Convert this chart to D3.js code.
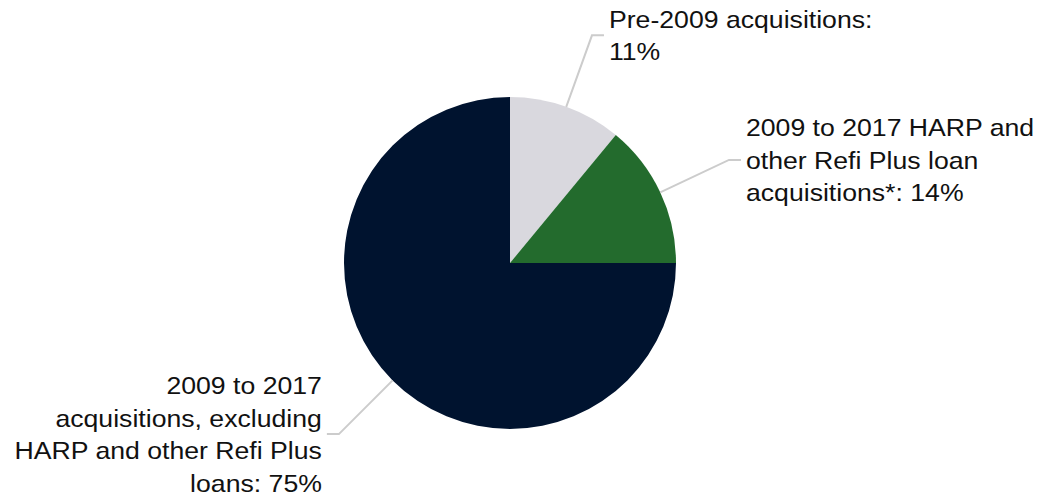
<!DOCTYPE html>
<html>
<head>
<meta charset="utf-8">
<script src="https://cdn.jsdelivr.net/npm/d3@7"></script>
<style>
  body { margin: 0; background: #fff; }
  svg text { font-family: "Liberation Sans", Arial, sans-serif; fill: #111; }
</style>
</head>
<body>
<div id="chart"></div>
<script>
// Slice categories and shares (percent)
const categories = ["Pre-2009", "HARP/Refi Plus", "2009-2017 other"];
const shares = [11, 14, 75];
// Label lines for each slice
const labelLines = [
  ["Pre-2009 acquisitions:", "11%"],
  ["2009 to 2017 HARP and", "other Refi Plus loan", "acquisitions*: 14%"],
  ["2009 to 2017", "acquisitions, excluding", "HARP and other Refi Plus", "loans: 75%"]
];
const colors = ["#d9d8de", "#236b2d", "#00132f"];

const width = 1041, height = 499;
const cx = 510, cy = 263, radius = 166;
const lineH = 32.5;
const stretch = 1.11; // labels in the original are a bit wide

const svg = d3.select("#chart")
  .append("svg")
  .attr("width", width)
  .attr("height", height);

const g = svg.append("g")
  .attr("transform", `translate(${cx},${cy})`);

const pie = d3.pie().sort(null).value(d => d)(shares);

const arc = d3.arc().innerRadius(0).outerRadius(radius);
const edgeArc = d3.arc().innerRadius(radius).outerRadius(radius);
const outerArc = d3.arc().innerRadius(242).outerRadius(242);

// slices
g.selectAll("path.slice")
  .data(pie)
  .enter()
  .append("path")
  .attr("class", "slice")
  .attr("d", arc)
  .attr("fill", (d, i) => colors[i]);

// leader lines: radial out, then a short horizontal tail
const midAngle = d => (d.startAngle + d.endAngle) / 2;
const side = d => (midAngle(d) < Math.PI ? 1 : -1);

g.selectAll("polyline")
  .data(pie)
  .enter()
  .append("polyline")
  .attr("fill", "none")
  .attr("stroke", "#cccccc")
  .attr("stroke-width", 2)
  .attr("points", d => {
    const a = edgeArc.centroid(d);
    const b = outerArc.centroid(d);
    const c = [b[0] + side(d) * 12, b[1]];
    return [a, b, c].map(p => p.join(",")).join(" ");
  });

// labels
g.selectAll("text.label")
  .data(pie)
  .enter()
  .append("text")
  .attr("class", "label")
  .attr("font-size", 24)
  .attr("text-anchor", d => (side(d) > 0 ? "start" : "end"))
  .attr("transform", d => {
    const b = outerArc.centroid(d);
    return `translate(${b[0] + side(d) * 17},${b[1]}) scale(${stretch},1)`;
  })
  .each(function(d, i) {
    const lines = labelLines[i];
    const y0 = -(lines.length - 1) * lineH / 2;
    d3.select(this).selectAll("tspan")
      .data(lines)
      .enter()
      .append("tspan")
      .attr("x", 0)
      .attr("y", (l, j) => y0 + j * lineH)
      .attr("dy", "0.36em")
      .text(l => l);
  });
</script>
</body>
</html>
